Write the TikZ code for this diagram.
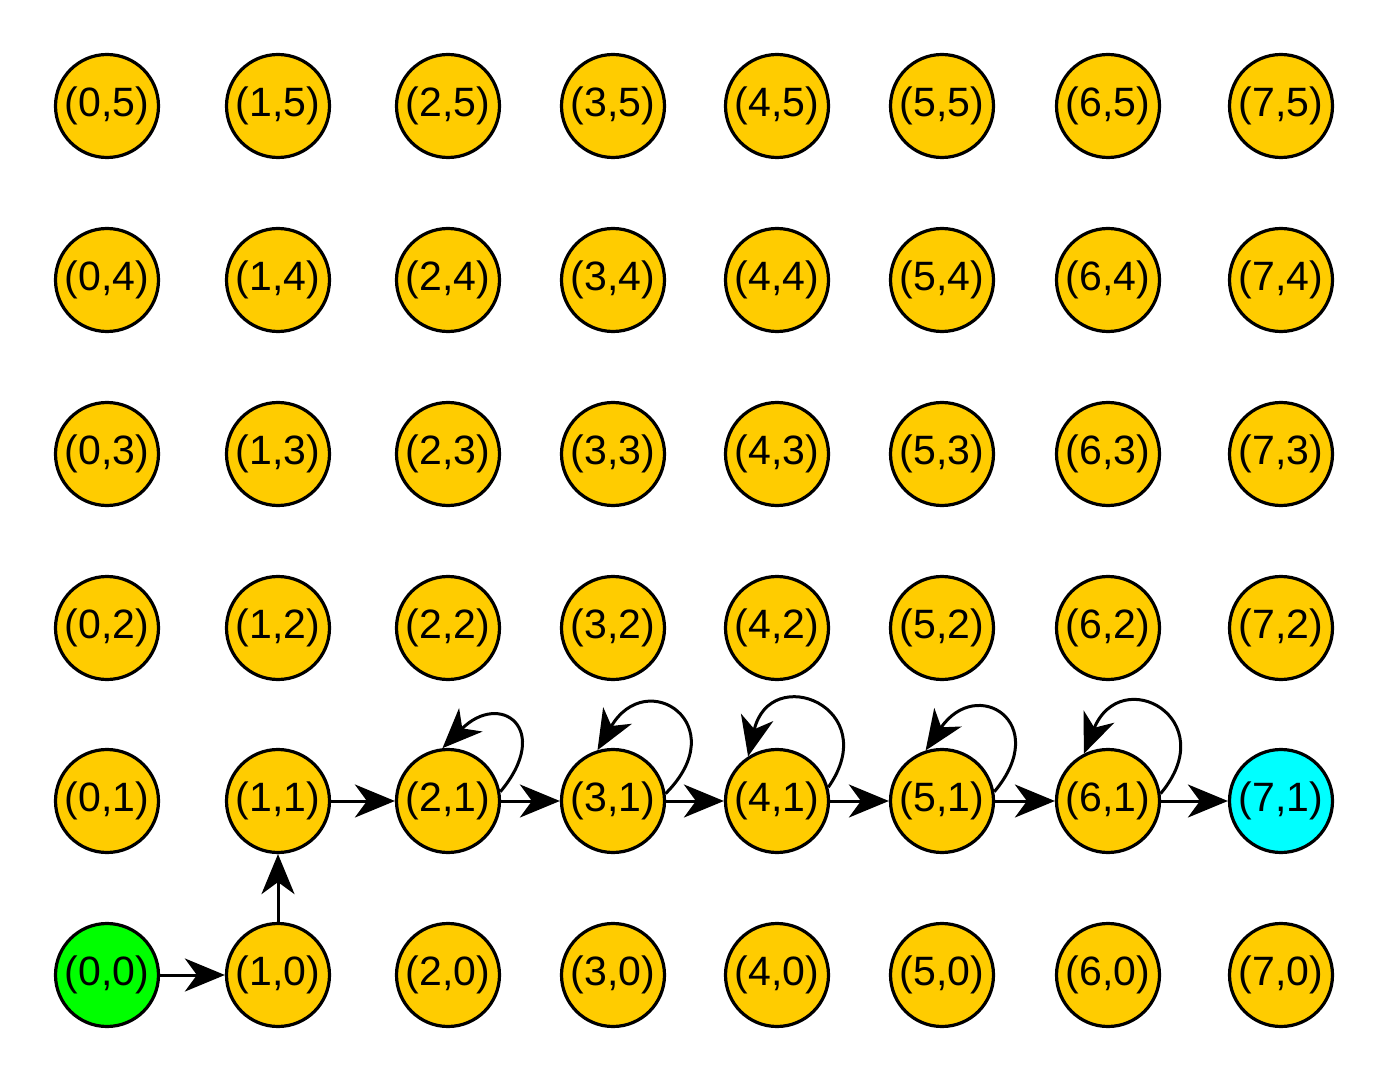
\documentclass[tikz,border=0pt]{standalone}
\usepackage{fontspec}
\setmainfont{Liberation Sans}
\usetikzlibrary{arrows.meta}
\definecolor{gold}{RGB}{255,204,0}
\definecolor{startgreen}{RGB}{0,255,0}
\definecolor{goalcyan}{RGB}{0,255,255}
\tikzset{
  st/.style={circle, draw=black, line width=1.6pt, minimum size=51.5pt, inner sep=0pt,
    font=\fontsize{20.5}{24}\selectfont},
  tr/.style={line width=1.5pt, -{Stealth[length=20pt,width=16.5pt,inset=6pt]}},
}
\begin{document}
\begin{tikzpicture}[x=0.5pt,y=-0.5pt]
\useasboundingbox (0,0) rectangle (1386,1080);
\foreach \i/\x in {0/107,1/278,2/448,3/613,4/777,5/942,6/1108,7/1281}{
  \foreach \j/\y in {0/975,1/801,2/628,3/454,4/280,5/106}{
    \def\fc{gold}
    \ifnum\i=0 \ifnum\j=0 \def\fc{startgreen}\fi\fi
    \ifnum\i=7 \ifnum\j=1 \def\fc{goalcyan}\fi\fi
    \node[st, fill=\fc] (n\i\j) at (\x,\y) {(\i,\j)};
  }
}
\draw[tr] (n00) -- (n10);
\draw[tr] (n10) -- (n11);
\draw[tr] (n11) -- (n21);
\draw[tr] (n21) -- (n31);
\draw[tr] (n31) -- (n41);
\draw[tr] (n41) -- (n51);
\draw[tr] (n51) -- (n61);
\draw[tr] (n61) -- (n71);
\draw[tr] (n21.10) to[out=50,in=45,looseness=2.9] (n21.96);
\draw[tr] (n31.8) to[out=45,in=60,looseness=3.1] (n31.107);
\draw[tr] (n41.15) to[out=55,in=77,looseness=2.9] (n41.123);
\draw[tr] (n51.10) to[out=50,in=56,looseness=2.9] (n51.108);
\draw[tr] (n61.8) to[out=50,in=68,looseness=2.9] (n61.117);
\end{tikzpicture}
\end{document}
